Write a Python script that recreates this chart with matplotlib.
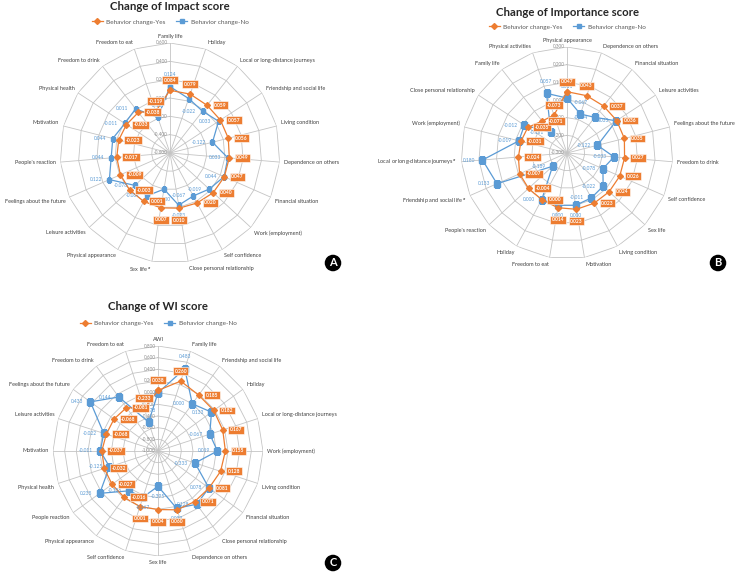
import numpy as np
import matplotlib.pyplot as plt
from matplotlib.lines import Line2D

plt.rcParams['font.family'] = ['Lato', 'DejaVu Sans']

W, H = 736, 572
ORANGE = '#ED7D31'
BLUE = '#5B9BD5'
GRID = '#c4c4c4'
TXT = '#404040'

# A - change of impact score
impact_cats = ['Family life', 'Holiday', 'Local or long-distance journeys',
               'Friendship and social life', 'Living condition', 'Dependence on others',
               'Financial situation', 'Work (employment)', 'Self confidence',
               'Close personal relationship', 'Sex life$^{\\,a}$', 'Physical appearance',
               'Leisure activities', 'Feelings about the future', "People's reaction",
               'Motivation', 'Physical health', 'Freedom to drink', 'Freedom to eat']
impact_yes = [0.084, 0.079, 0.059, 0.057, 0.056, 0.049, 0.047, 0.040, 0.020, 0.010,
              0.007, 0.001, -0.003, -0.009, -0.017, -0.023, -0.033, -0.038, -0.119]
impact_no = [0.124, 0.028, -0.022, 0.033, -0.122, 0.033, 0.044, -0.019, -0.067, -0.023,
             -0.200, -0.067, -0.078, 0.122, 0.044, 0.044, -0.011, 0.011, -0.189]

# B - change of importance score
imp_cats = ['Physical appearance', 'Dependence on others', 'Financial situation',
            'Leisure activities', 'Feelings about the future', 'Freedom to drink',
            'Self confidence', 'Sex life', 'Living condition', 'Motivation',
            'Freedom to eat', 'Holiday', "People's reaction",
            'Friendship and social life$^{\\,a}$', 'Local or long-distance journeys$^{\\,a}$',
            'Work (employment)', 'Close personal relationship', 'Family life',
            'Physical activities']
imp_yes = [0.047, 0.043, 0.037, 0.036, 0.035, 0.027, 0.026, 0.024, 0.023, 0.023,
           0.014, 0.000, -0.004, -0.007, -0.024, -0.031, -0.035, -0.071, -0.073]
imp_no = [0.011, -0.067, -0.044, 0.033, -0.122, -0.033, -0.078, -0.022, -0.011, 0.000,
          0.000, 0.000, -0.189, 0.133, 0.180, -0.019, -0.012, -0.151, 0.057]

# C - change of WI score
wi_cats = ['AWI', 'Family life', 'Friendship and social life', 'Holiday',
           'Local or long-distance journeys', 'Work (employment)', 'Living condition',
           'Financial situation', 'Close personal relationship', 'Dependence on others',
           'Sex life', 'Self confidence', 'Physical appearance', 'People reaction',
           'Physical health', 'Motivation', 'Leisure activities',
           'Feelings about the future', 'Freedom to drink', 'Freedom to eat']
wi_yes = [0.038, 0.260, 0.185, 0.182, 0.167, 0.155, 0.128, 0.081, 0.071, 0.060,
          0.004, 0.001, -0.016, -0.027, -0.032, -0.037, -0.068, -0.068, -0.081, -0.233]
wi_no = [-0.003, 0.483, 0.000, 0.133, -0.067, 0.019, -0.333, 0.078, 0.128, 0.033,
         -0.395, -0.167, -0.156, 0.235, -0.125, -0.011, -0.022, 0.433, 0.144, -0.478]

fig = plt.figure(figsize=(W / 100, H / 100), dpi=100)
PT = 0.72  # points per pixel at 100 dpi


def radar(cx, cy, R, cats, yes, no, rmin, rmax, step, sq):
    ax = fig.add_axes([(cx - R) / W, 1 - (cy + R) / H, 2 * R / W, 2 * R / H],
                      projection='polar')
    ax.set_theta_zero_location('N')
    ax.set_theta_direction(-1)
    ax.set_ylim(rmin, rmax)
    ax.grid(False)
    ax.spines['polar'].set_visible(False)
    ax.set_xticks([])
    ax.set_yticks([])
    ax.patch.set_alpha(0)

    n = len(cats)
    th = np.arange(n) * 2 * np.pi / n
    thc = np.append(th, th[0])
    levels = np.arange(rmin, rmax + step / 2, step)
    for lv in levels[1:]:
        ax.plot(thc, np.full(n + 1, lv), color=GRID, lw=0.6, zorder=1)
    for t in th:
        ax.plot([t, t], [rmin, rmax], color=GRID, lw=0.6, zorder=1)
    for lv in levels:
        ax.annotate('%.3f' % (round(lv, 3) + 0.0), (0, lv), xytext=(-1.5, 0),
                    textcoords='offset points', ha='right', va='center',
                    fontsize=3.3, color='#8c8c8c', annotation_clip=False)

    # category labels
    for t, c in zip(th, cats):
        s, co = np.sin(t), np.cos(t)
        ha = 'left' if s > 0.1 else ('right' if s < -0.1 else 'center')
        va = 'bottom' if co > 0.15 else ('top' if co < -0.15 else 'center')
        ax.annotate(c, (t, rmax), xytext=(3 * s, 3 * co), textcoords='offset points',
                    ha=ha, va=va, fontsize=4.0, color=TXT, annotation_clip=False)

    ax.plot(thc, np.append(no, no[0]), color=BLUE, lw=0.9, marker='s', ms=sq,
            zorder=3)
    ax.plot(thc, np.append(yes, yes[0]), color=ORANGE, lw=0.9, marker='D', ms=3,
            zorder=4)

    for t, v in zip(th, no):
        co = np.cos(t)
        if co > 0.93:
            off, ha = (0, 12), 'center'
        elif co < -0.93:
            off, ha = (0, -10), 'center'
        else:
            off, ha = (-7, 0), 'right'
        ax.annotate('%.3f' % v, (t, v), xytext=(off[0] * PT, off[1] * PT),
                    textcoords='offset points', ha=ha, va='center', fontsize=3.5,
                    color=BLUE, zorder=5, annotation_clip=False)
    for t, v in zip(th, yes):
        co = np.cos(t)
        if co > 0.93:
            off, ha = (0, 10), 'center'
        elif co < -0.93:
            off, ha = (0, -12), 'center'
        else:
            off, ha = (7, 0), 'left'
        ax.annotate('%.3f' % v, (t, v), xytext=(off[0] * PT, off[1] * PT),
                    textcoords='offset points', ha=ha, va='center', fontsize=3.5,
                    color='white', weight='bold', zorder=6, annotation_clip=False,
                    bbox=dict(boxstyle='square,pad=0.3', fc=ORANGE, ec='white', lw=0.4))
    return ax


def header(cx, ty, ly, title):
    fig.text(cx / W, 1 - ty / H, title, ha='center', va='center', fontsize=8.2,
             weight='bold', color='#262626')
    hs = [Line2D([], [], color=ORANGE, lw=0.9, marker='D', ms=3),
          Line2D([], [], color=BLUE, lw=0.9, marker='s', ms=3.5)]
    fig.legend(hs, ['Behavior change-Yes', 'Behavior change-No'], loc='center',
               bbox_to_anchor=(cx / W, 1 - ly / H), ncol=2, frameon=False,
               fontsize=4.6, handlelength=1.8, columnspacing=1.6, handletextpad=0.5,
               labelcolor='#595959')


def badge(x, y, letter):
    fig.text(x / W, 1 - y / H, letter, ha='center', va='center', color='white',
             weight='bold', fontsize=8,
             bbox=dict(boxstyle='circle,pad=0.25', fc='black', ec='none'))


radar(170, 153, 110, impact_cats, impact_yes, impact_no, -0.6, 0.6, 0.2, 2.5)
header(170, 7, 22, 'Change of Impact score')
badge(333, 263, 'A')

radar(567, 153, 106, imp_cats, imp_yes, imp_no, -0.3, 0.3, 0.1, 4.5)
header(567, 12, 27, 'Change of Importance score')
badge(718, 263, 'B')

radar(158, 451, 105, wi_cats, wi_yes, wi_no, -1.0, 0.8, 0.2, 4.5)
header(158, 307, 323, 'Change of WI score')
badge(333, 563, 'C')

fig.savefig('out.png', dpi=100)
